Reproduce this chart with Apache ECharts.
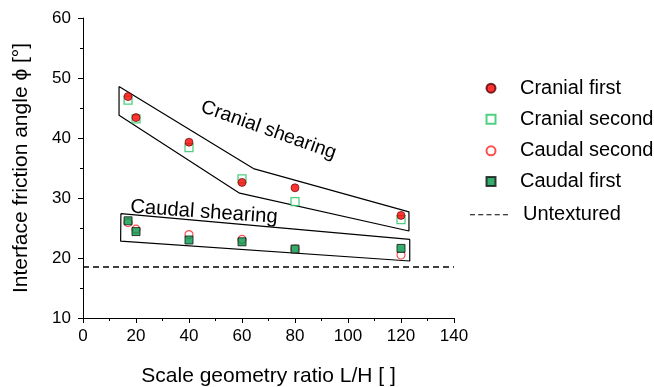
<!DOCTYPE html>
<html><head><meta charset="utf-8">
<script src="https://cdn.jsdelivr.net/npm/echarts@6/dist/echarts.min.js"></script>
<style>html,body{margin:0;padding:0;background:#fff}#c{width:654px;height:387px}</style>
</head><body><div id="c"></div>
<script>
const xCranial = [17, 20, 40, 60, 80, 120];
const cranialFirst = [46.9, 43.4, 39.3, 32.6, 31.7, 27.1];
const cranialSecond = [46.3, 43.2, 38.4, 33.2, 29.4, 26.4];
const caudalSecond = [25.9, 24.8, 23.9, 23.1, 21.5, 20.5];
const caudalFirst = [26.2, 24.4, 23.0, 22.7, 21.5, 21.6];
const untexturedValue = 18.5;
const cranialEnvelope = [[13.6, 48.6], [64.3, 34.9], [123, 27.7], [123, 24.5], [59.1, 30.8], [13.6, 43.8], [13.6, 48.6]];
const caudalEnvelope = [[14.3, 27.4], [123.3, 23.1], [123.3, 19.5], [14.2, 22.8], [14.3, 27.4]];
const xTicks = [0, 20, 40, 60, 80, 100, 120, 140];
const yTicks = [10, 20, 30, 40, 50, 60];
const legendNames = ['Cranial first', 'Cranial second', 'Caudal second', 'Caudal first', 'Untextured'];

const FONT = 'Liberation Sans';
const pair = (xs, ys) => xs.map((x, i) => [x, ys[i]]);

const legendRowCenters = [88.2, 119.2, 150.8, 181.5, 214.8];
const legends = legendNames.map((n, i) => {
  const isLine = n === 'Untextured';
  return {
    orient: 'vertical', padding: 0,
    left: isLine ? 470 : 485.5,
    top: legendRowCenters[i] - 11,
    itemWidth: isLine ? 38 : 9, itemHeight: isLine ? 2 : 9,
    textStyle: { fontSize: 20, lineHeight: 22, color: '#000', fontFamily: FONT,
      padding: [0, 0, 0, isLine ? 10 : 19.5] },
    data: isLine ? [{ name: n, icon: 'path://M0,0H5V1H0Z M8.25,0H13.25V1H8.25Z M16.5,0H21.5V1H16.5Z M24.75,0H29.75V1H24.75Z M33,0H38V1H33Z' }] : [n]
  };
});

const chart = echarts.init(document.getElementById('c'));
chart.setOption({
  animation: false,
  textStyle: { fontFamily: FONT },
  grid: { left: 83, right: 200, top: 18, bottom: 69, outerBoundsMode: 'none', containLabel: false },
  xAxis: {
    type: 'value', min: xTicks[0], max: xTicks[xTicks.length - 1], interval: 20,
    name: 'Scale geometry ratio L/H [ ]', nameLocation: 'middle', nameGap: 48,
    nameTextStyle: { fontSize: 21, color: '#000', fontFamily: FONT },
    axisLine: { lineStyle: { color: '#000', width: 1 } },
    axisTick: { length: 5, lineStyle: { color: '#000' } },
    minorTick: { show: true, splitNumber: 2, length: 3, lineStyle: { color: '#000' } },
    axisLabel: { fontSize: 17, color: '#000', margin: 10, fontFamily: FONT },
    splitLine: { show: false }
  },
  yAxis: {
    type: 'value', min: yTicks[0], max: yTicks[yTicks.length - 1], interval: 10,
    name: 'Interface friction angle ϕ [°]', nameLocation: 'middle', nameGap: 51,
    nameTextStyle: { fontSize: 21, color: '#000', fontFamily: FONT },
    axisLine: { show: true, lineStyle: { color: '#000', width: 1 } },
    axisTick: { show: true, length: 5, lineStyle: { color: '#000' } },
    minorTick: { show: true, splitNumber: 2, length: 3, lineStyle: { color: '#000' } },
    axisLabel: { fontSize: 17, color: '#000', margin: 12, fontFamily: FONT },
    splitLine: { show: false }
  },
  legend: legends,
  graphic: [
    { type: 'text', x: 205, y: 97, rotation: -19.5 * Math.PI / 180,
      style: { text: 'Cranial shearing', font: '19.5px ' + FONT, fill: '#000', align: 'left', verticalAlign: 'top' } },
    { type: 'text', x: 131, y: 197, rotation: -4 * Math.PI / 180,
      style: { text: 'Caudal shearing', font: '20.3px ' + FONT, fill: '#000', align: 'left', verticalAlign: 'top' } }
  ],
  series: [
    { name: 'Cranial envelope', type: 'line', data: cranialEnvelope, symbol: 'none', silent: true,
      lineStyle: { color: '#000', width: 1.2 }, z: 1 },
    { name: 'Caudal envelope', type: 'line', data: caudalEnvelope, symbol: 'none', silent: true,
      lineStyle: { color: '#000', width: 1.2 }, z: 1 },
    { name: 'Untextured', type: 'line', data: [[xTicks[0], untexturedValue], [xTicks[xTicks.length - 1], untexturedValue]],
      symbol: 'none', itemStyle: { color: '#000' }, lineStyle: { color: '#000', width: 1.5, type: [6, 4] }, z: 1 },
    { name: 'Cranial second', type: 'scatter', data: pair(xCranial, cranialSecond), symbol: 'rect', symbolSize: 8,
      itemStyle: { color: '#fff', borderColor: '#22c460', borderWidth: 1.3 }, z: 2 },
    { name: 'Cranial first', type: 'scatter', data: pair(xCranial, cranialFirst), symbol: 'circle', symbolSize: 8,
      itemStyle: { color: '#ff0000', borderColor: '#550000', borderWidth: 0.8 }, z: 3 },
    { name: 'Caudal second', type: 'scatter', data: pair(xCranial, caudalSecond), symbol: 'circle', symbolSize: 8,
      itemStyle: { color: '#fff', borderColor: '#ff2222', borderWidth: 1.2 }, z: 2 },
    { name: 'Caudal first', type: 'scatter', data: pair(xCranial, caudalFirst), symbol: 'rect', symbolSize: 8,
      itemStyle: { color: '#00994a', borderColor: '#111', borderWidth: 1 }, z: 3 }
  ]
});
</script></body></html>
